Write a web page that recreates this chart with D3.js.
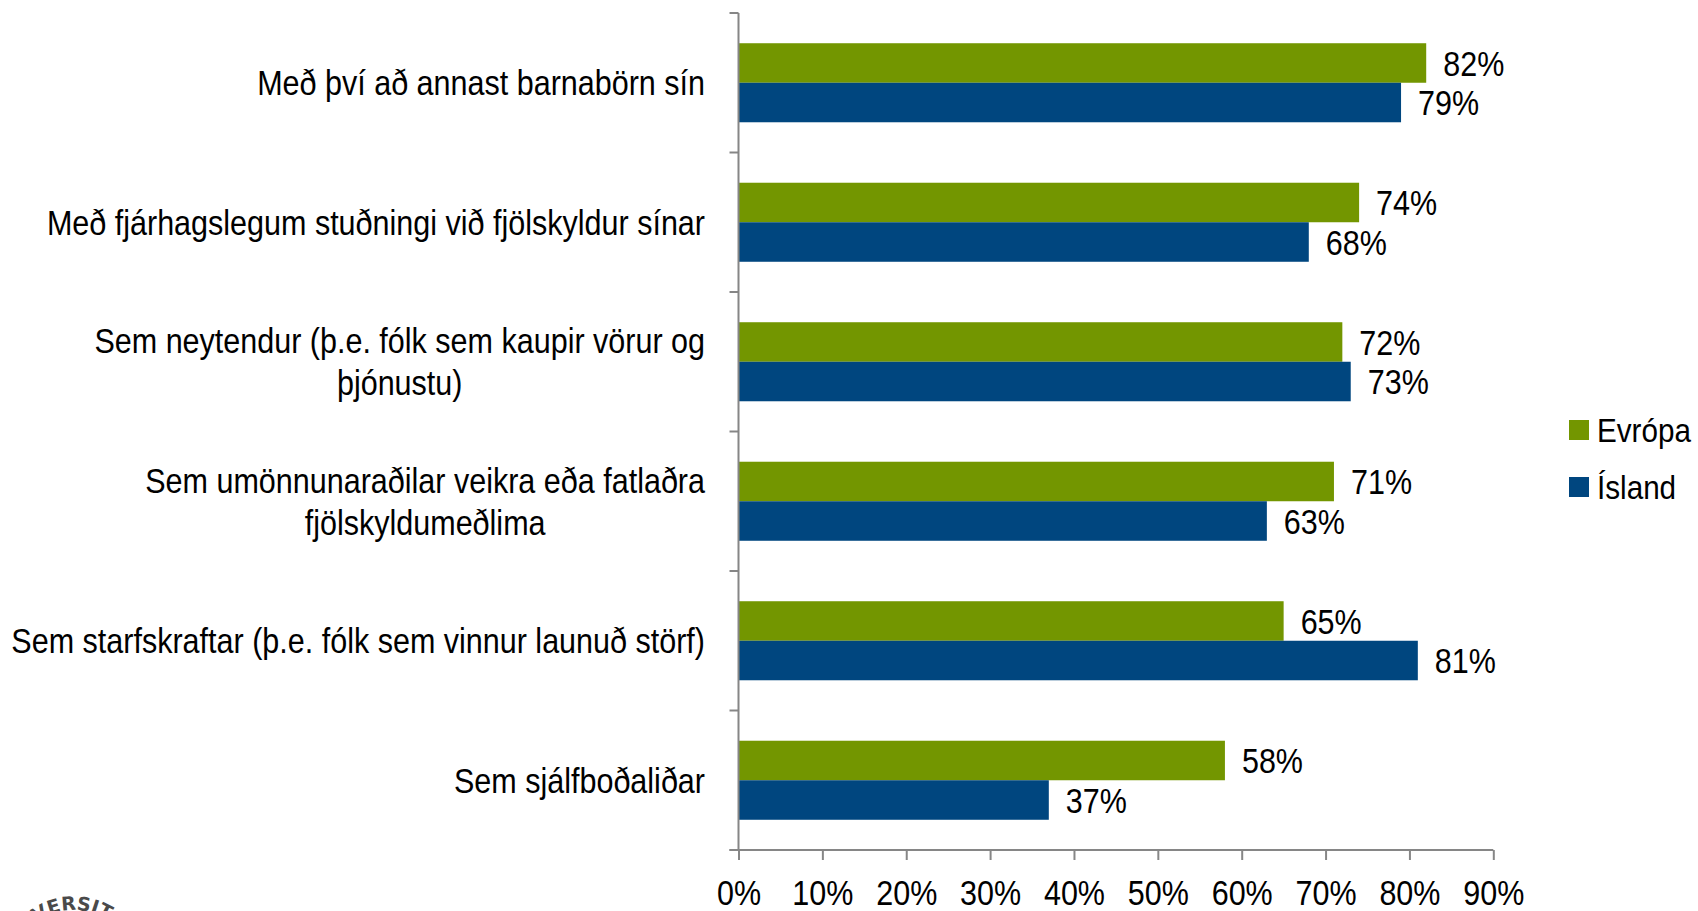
<!DOCTYPE html>
<html><head><meta charset="utf-8">
<script src="https://cdn.jsdelivr.net/npm/d3@7"></script>
<style>
html,body{margin:0;padding:0;background:#fff;}
svg{display:block;}
text{font-family:"Liberation Sans",Arial,sans-serif;fill:#000;}
</style></head>
<body>
<svg id="chart" width="1698" height="911"></svg>
<script>
const categories = [
  ["Með því að annast barnabörn sín"],
  ["Með fjárhagslegum stuðningi við fjölskyldur sínar"],
  ["Sem neytendur (þ.e. fólk sem kaupir vörur og", "þjónustu)"],
  ["Sem umönnunaraðilar veikra eða fatlaðra", "fjölskyldumeðlima"],
  ["Sem starfskraftar (þ.e. fólk sem vinnur launuð störf)"],
  ["Sem sjálfboðaliðar"]
];
const seriesNames = ["Evrópa", "Ísland"];
const evropa = [82, 74, 72, 71, 65, 58];
const island = [79, 68, 73, 63, 81, 37];
const xTicks = [0, 10, 20, 30, 40, 50, 60, 70, 80, 90];
const colors = ["#739600", "#00467f"];

(function(){
const svg = d3.select("#chart");
const pLeft = 738.5, pRight = 1493.3, pTop = 13, pBottom = 850;
const FS = 35;

// condensed look: measure a reference string and compute horizontal squeeze
const probe = svg.append("text").style("font-size", FS + "px").text(categories[0][0]);
const sx = 448 / probe.node().getComputedTextLength();
probe.remove();

function addText(parent, x, y, str, size, anchor) {
  const g = parent.append("g").attr("transform", `translate(${x},${y}) scale(${sx},1)`);
  return g.append("text").attr("text-anchor", anchor || "start").attr("dy", "0.36em")
    .style("font-size", size + "px").text(str);
}

const x = d3.scaleLinear().domain([0, 90]).range([pLeft, pRight]);
const y = d3.scaleBand().domain(d3.range(categories.length)).range([pTop, pBottom]).paddingInner(0).paddingOuter(0);
const inner = d3.scaleBand().domain([0, 1]).range([0, y.bandwidth()]).paddingOuter(0.765).paddingInner(0);

const data = categories.map((c, i) => ({i, vals: [evropa[i], island[i]]}));

const g = svg.append("g");
data.forEach(d => {
  d.vals.forEach((v, s) => {
    g.append("rect")
      .attr("x", x(0))
      .attr("y", y(d.i) + inner(s))
      .attr("width", x(v) - x(0))
      .attr("height", inner.bandwidth())
      .attr("fill", colors[s]);
    addText(g, x(v) + 17, y(d.i) + inner(s) + inner.bandwidth() / 2, v + "%", FS, "start");
  });
});

// Y axis
const axisColor = "#868686";
const yAxisG = svg.append("g");
yAxisG.append("line").attr("x1", pLeft).attr("x2", pLeft).attr("y1", pTop).attr("y2", pBottom)
  .attr("stroke", axisColor).attr("stroke-width", 2);
d3.range(categories.length + 1).forEach(k => {
  const yy = pTop + k * y.bandwidth();
  yAxisG.append("line").attr("x1", pLeft - 9).attr("x2", pLeft).attr("y1", yy).attr("y2", yy)
    .attr("stroke", axisColor).attr("stroke-width", 2);
});

// category labels
const labelRight = 705, lh = 42;
categories.forEach((lines, i) => {
  const cy = y(i) + y.bandwidth() / 2;
  if (lines.length === 1) {
    addText(svg, labelRight, cy, lines[0], FS, "end");
  } else {
    const t0 = addText(svg, labelRight, cy - lh / 2, lines[0], FS, "end");
    const w = t0.node().getComputedTextLength() * sx;
    lines.slice(1).forEach((ln, k) => {
      addText(svg, labelRight - w / 2, cy - lh / 2 + (k + 1) * lh, ln, FS, "middle");
    });
  }
});

// X axis
const xAxis = d3.axisBottom(x).tickValues(xTicks).tickSize(10).tickPadding(20).tickFormat(d => d + "%");
const xg = svg.append("g").attr("transform", `translate(0,${pBottom})`).call(xAxis);
xg.select(".domain").attr("stroke", axisColor).attr("stroke-width", 2).attr("d", `M${pLeft - 9},0H${pRight}`);
xg.selectAll(".tick line").attr("stroke", axisColor).attr("stroke-width", 2);
xg.selectAll(".tick text").style("font-size", "35px").attr("fill", "#000")
  .style("font-family", '"Liberation Sans",Arial,sans-serif')
  .attr("transform", `scale(${sx},1)`);

// Legend
const lg = svg.append("g");
seriesNames.forEach((n, s) => {
  const cy = 430 + s * 57;
  lg.append("rect").attr("x", 1569).attr("y", cy - 10).attr("width", 20).attr("height", 20).attr("fill", colors[s]);
  addText(lg, 1597, cy, n, 34, "start");
});

// partial logo text (cut off at bottom edge)
const defs = svg.append("defs");
defs.append("path").attr("id", "logoArc").attr("d", "M 12,972 A 62,62 0 0 1 136,972");
svg.append("text").style("font-family", "DejaVu Sans, sans-serif").style("font-weight", "bold")
  .style("font-size", "19px").style("fill", "#4a4a4a")
  .append("textPath").attr("href", "#logoArc").attr("startOffset", "50%").attr("text-anchor", "middle")
  .text("NIVERSITAS");
})();
</script>
</body></html>
